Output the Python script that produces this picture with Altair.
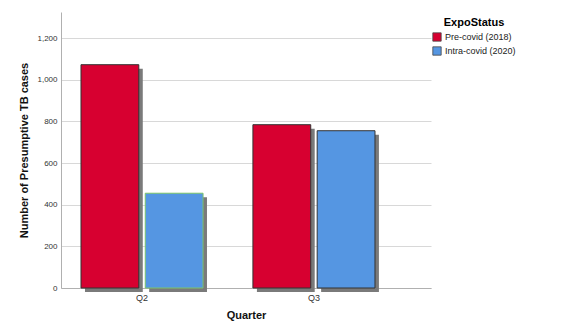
import altair as alt
import pandas as pd

quarters = ["Q2", "Q2", "Q3", "Q3"]
status = ["Pre-covid (2018)", "Intra-covid (2020)", "Pre-covid (2018)", "Intra-covid (2020)"]
cases = [1072, 455, 784, 755]
status_order = ["Pre-covid (2018)", "Intra-covid (2020)"]
status_colors = ["#d70030", "#5596e2"]
y_ticks = [0, 200, 400, 600, 800, 1000, 1200]

df = pd.DataFrame({"Quarter": quarters, "ExpoStatus": status, "cases": cases})

W, H = 370, 276
YMAX = 1325
shadow_units = 4 * YMAX / H

xscale = alt.Scale(paddingInner=0.29, paddingOuter=0.221, align=0.263)
yscale = alt.Scale(domain=[0, YMAX], nice=False)
xaxis = alt.Axis(title="Quarter", labelAngle=0, ticks=False, grid=False, labelPadding=5,
                 titlePadding=7, domainColor="#b0b0b0")
yaxis = alt.Axis(title="Number of Presumptive TB cases", values=y_ticks,
                 format=",d", ticks=False, labelPadding=4, titlePadding=7,
                 domainColor="#b0b0b0", gridColor="#d8d8d8")

base = alt.Chart(df)

shadow = base.transform_calculate(
    ys="datum.cases - %f" % shadow_units, y0="-%f" % shadow_units
).mark_bar(color="#7a7a7a").encode(
    x=alt.X("Quarter:N", scale=xscale, axis=xaxis),
    xOffset=alt.XOffset("ExpoStatus:N", sort=status_order,
                        scale=alt.Scale(range=[4, 126], paddingInner=0.1, paddingOuter=0)),
    y=alt.Y("ys:Q", scale=yscale, axis=yaxis),
    y2="y0:Q",
)

bars = base.mark_bar(strokeWidth=1).encode(
    x=alt.X("Quarter:N", scale=xscale, axis=xaxis),
    xOffset=alt.XOffset("ExpoStatus:N", sort=status_order,
                        scale=alt.Scale(paddingInner=0.1, paddingOuter=0)),
    y=alt.Y("cases:Q", scale=yscale, axis=yaxis),
    color=alt.Color("ExpoStatus:N", sort=status_order,
                    scale=alt.Scale(domain=status_order, range=status_colors),
                    legend=alt.Legend(title="ExpoStatus", orient="none", legendX=371, legendY=5,
                                      titleAnchor="middle", symbolType="square",
                                      symbolSize=70, symbolStrokeColor="#444",
                                      symbolStrokeWidth=0.8, labelFontSize=9,
                                      titleFontSize=11, titleFont="Liberation Sans",
                                      labelFont="Liberation Sans", labelColor="#222",
                                      rowPadding=2, titlePadding=4, labelOffset=3)),
    stroke=alt.condition(
        (alt.datum.Quarter == "Q2") & (alt.datum.ExpoStatus == "Intra-covid (2020)"),
        alt.value("#7cc46a"), alt.value("#333333")),
)

chart = alt.layer(shadow, bars).resolve_scale(xOffset="independent").properties(
    width=W, height=H,
    background="white",
    autosize=alt.AutoSizeParams(type="none"),
    padding={"left": 61, "top": 12, "right": 137, "bottom": 45},
    view=alt.ViewBackground(stroke="transparent"),
).configure_view(stroke="transparent").configure_axis(
    labelFont="Liberation Sans", titleFont="Liberation Sans", labelFontSize=8,
    labelColor="#333", titleFontSize=11, titleColor="#111", titleFontWeight="bold",
).configure_axisX(grid=False, labelFontSize=9)

chart.save("out.html", embed_options={"renderer": "svg", "actions": False})
